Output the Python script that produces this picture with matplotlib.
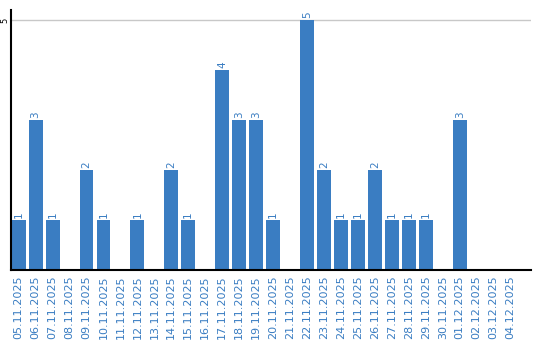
import numpy as np
import matplotlib.pyplot as plt

dates = ["05.11.2025", "06.11.2025", "07.11.2025", "08.11.2025", "09.11.2025",
         "10.11.2025", "11.11.2025", "12.11.2025", "13.11.2025", "14.11.2025",
         "15.11.2025", "16.11.2025", "17.11.2025", "18.11.2025", "19.11.2025",
         "20.11.2025", "21.11.2025", "22.11.2025", "23.11.2025", "24.11.2025",
         "25.11.2025", "26.11.2025", "27.11.2025", "28.11.2025", "29.11.2025",
         "30.11.2025", "01.12.2025", "02.12.2025", "03.12.2025", "04.12.2025"]
counts = [1, 3, 1, 0, 2, 1, 0, 1, 0, 2, 1, 0, 4, 3, 3, 1, 0, 5, 2, 1,
          1, 2, 1, 1, 1, 0, 3, 0, 0, 0]

blue = "#3a7dc2"

fig = plt.figure(figsize=(5.4, 3.4), dpi=100)
ax = fig.add_axes([11 / 540, 70 / 340, 520 / 540, 260 / 340])

x = np.arange(len(dates))
ax.bar(x, counts, width=0.82, color=blue, zorder=2)

for xi, v in zip(x, counts):
    if v > 0:
        ax.text(xi, v + 0.05, str(v), rotation=90, ha="center", va="bottom",
                fontsize=7.5, color=blue)

ax.set_xlim(-0.45, 30.2)
ax.set_ylim(0, 5.2)
ax.set_yticks([5])
ax.set_yticklabels(["5"], rotation=90, va="center", fontsize=6)
ax.yaxis.grid(True, color="#c8c8c8", linewidth=1, zorder=0)
ax.tick_params(axis="y", length=0, pad=1)

ax.set_xticks(x)
ax.set_xticklabels(dates, rotation=90, fontsize=8, color=blue)
ax.tick_params(axis="x", length=0, pad=4)

for s in ["top", "right"]:
    ax.spines[s].set_visible(False)
ax.spines["left"].set_linewidth(1.5)
ax.spines["bottom"].set_linewidth(1.5)

fig.savefig("out.png", dpi=100)
